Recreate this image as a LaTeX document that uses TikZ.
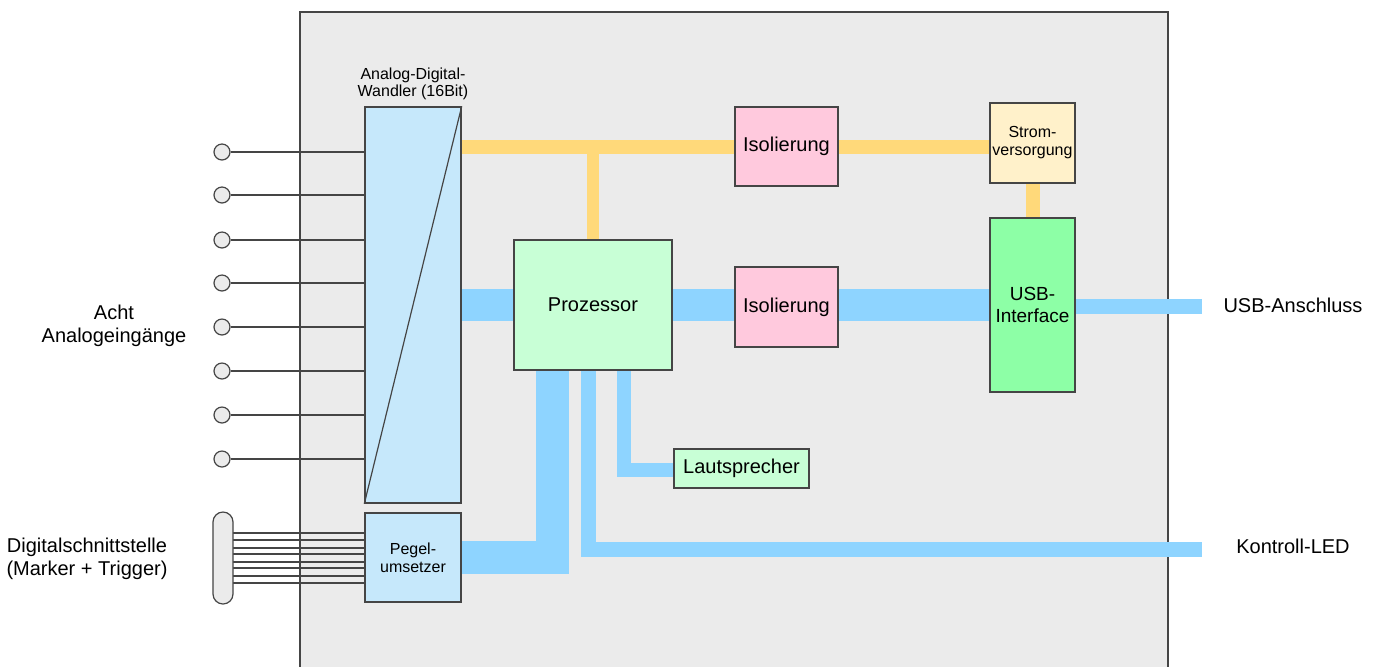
\documentclass[tikz,border=0pt]{standalone}
\usepackage{fontspec}
\setmainfont{Liberation Sans}
\usetikzlibrary{shapes.geometric,calc}
\definecolor{bggray}{HTML}{EBEBEB}
\definecolor{edge}{HTML}{454545}
\definecolor{busblue}{HTML}{8ED4FF}
\definecolor{busyellow}{HTML}{FFD97A}
\definecolor{adcblue}{HTML}{C6E8FB}
\definecolor{isopink}{HTML}{FFC9DD}
\definecolor{stromyellow}{HTML}{FFF1CA}
\definecolor{procgreen}{HTML}{C8FFD6}
\definecolor{usbgreen}{HTML}{8DFFA6}
\pgfdeclarelayer{bg}
\pgfdeclarelayer{bus}
\pgfsetlayers{bg,bus,main}
\begin{document}
\begin{tikzpicture}[x=0.5pt,y=-0.5pt,
  box/.style={draw=edge,line width=0.7pt,inner sep=0pt,align=center,font=\fontsize{10}{11.5}\selectfont},
  smallbox/.style={box,font=\fontsize{8}{9}\selectfont},
  lbl/.style={align=center,inner sep=0pt,font=\fontsize{10}{11.5}\selectfont},
  bbus/.style={busblue,line join=miter},
  ybus/.style={busyellow,line width=7pt},
  wire/.style={edge,line width=0.6pt},
  jack/.style={circle,draw=edge,fill=bggray,line width=0.6pt,minimum size=8pt,inner sep=0pt}
]
\clip (0,0) rectangle (1381,666);
\useasboundingbox (0,0) rectangle (1381,666);
\begin{pgfonlayer}{bg}
\fill[white] (0,0) rectangle (1381,666);
\filldraw[fill=bggray,draw=edge,line width=1pt] (300,12) rectangle (1168,690);
\end{pgfonlayer}

% nodes
\node[box,fill=adcblue,minimum width=48pt,minimum height=198pt] (ADC) at (413,305) {};
\node[lbl,font=\fontsize{8}{8.5}\selectfont] (ADClbl) at (413,84) {Analog-Digital-\\Wandler (16Bit)};
\node[smallbox,fill=adcblue,minimum width=48pt,minimum height=44.5pt] (Pegel) at (413,557.5) {Pegel-\\umsetzer};
\node[box,fill=procgreen,minimum width=79pt,minimum height=65pt] (Proz) at (593,305) {Prozessor};
\node[box,fill=isopink,minimum width=51.5pt,minimum height=39.5pt] (Iso1) at (786.5,146.5) {Isolierung};
\node[box,fill=isopink,minimum width=51.5pt,minimum height=40pt] (Iso2) at (786.5,307) {Isolierung};
\node[smallbox,fill=stromyellow,minimum width=42.5pt,minimum height=40pt] (Strom) at (1032.5,143) {Strom-\\versorgung};
\node[box,fill=usbgreen,minimum width=42.5pt,minimum height=87pt,font=\fontsize{9.5}{11}\selectfont] (USB) at (1032.5,305) {USB-\\Interface};
\node[box,fill=procgreen,minimum width=67.5pt,minimum height=19.5pt] (Laut) at (741.5,468.5) {Lautsprecher};

\node[lbl] (usbl) at (1293,305) {USB-Anschluss};
\node[lbl] (ledl) at (1293,546) {Kontroll-LED};
\node[lbl] (analbl) at (114,326) {Acht\\Analogeingänge};
\node[lbl] (diglbl) at (87,559) {Digitalschnittstelle\\(Marker + Trigger)};

\coordinate (usbend) at (1202,306.5);
\coordinate (ledend) at (1202,549);

% ADC diagonal
\draw[wire] (ADC.south west) -- (ADC.north east);

% analog jacks
\foreach \i/\y in {1/152,2/195,3/240,4/283,5/327,6/371,7/415,8/459}{
  \node[jack] (c\i) at (222,\y) {};
  \draw[wire] (c\i.east) -- (ADC.west |- c\i.east);
}

% digital connector
\node[draw=edge,fill=bggray,line width=0.6pt,rounded corners=5pt,minimum width=10pt,minimum height=46pt,inner sep=0pt] (oval) at (223,558) {};
\begin{pgfonlayer}{bus}
\foreach \y in {533,540,548,554,562,568,576,583}{
  \draw[wire] (oval.center |- 0,\y) -- (Pegel.west |- 0,\y);
}
% yellow buses
\draw[ybus] (ADC.east |- Iso1.west) -- (Iso1.west);
\draw[ybus] (Iso1.east) -- (Strom.west |- Iso1.east);
\draw[ybus,line width=6pt] (Proz.north) -- (Proz.north |- Iso1.west);
\draw[ybus] (Strom.south) -- (USB.north);
% blue buses
\draw[bbus,line width=16pt] (ADC.east) -- (Proz.west);
\draw[bbus,line width=16pt] (Proz.east) -- (Iso2.west |- Proz.east);
\draw[bbus,line width=16pt] (Iso2.east |- Proz.east) -- (USB.west);
\draw[bbus,line width=7.5pt] (USB.east |- usbend) -- (usbend);
\draw[bbus,line width=16.5pt] (Pegel.east) -| ($(Proz.south)+(-41,0)$);
\draw[bbus,line width=7.5pt] ($(Proz.south)+(-4.5,0)$) |- (ledend);
\draw[bbus,line width=7pt] ($(Proz.south)+(31,0)$) |- ($(Laut.west)+(0,1.5)$);
\end{pgfonlayer}
\end{tikzpicture}
\end{document}
